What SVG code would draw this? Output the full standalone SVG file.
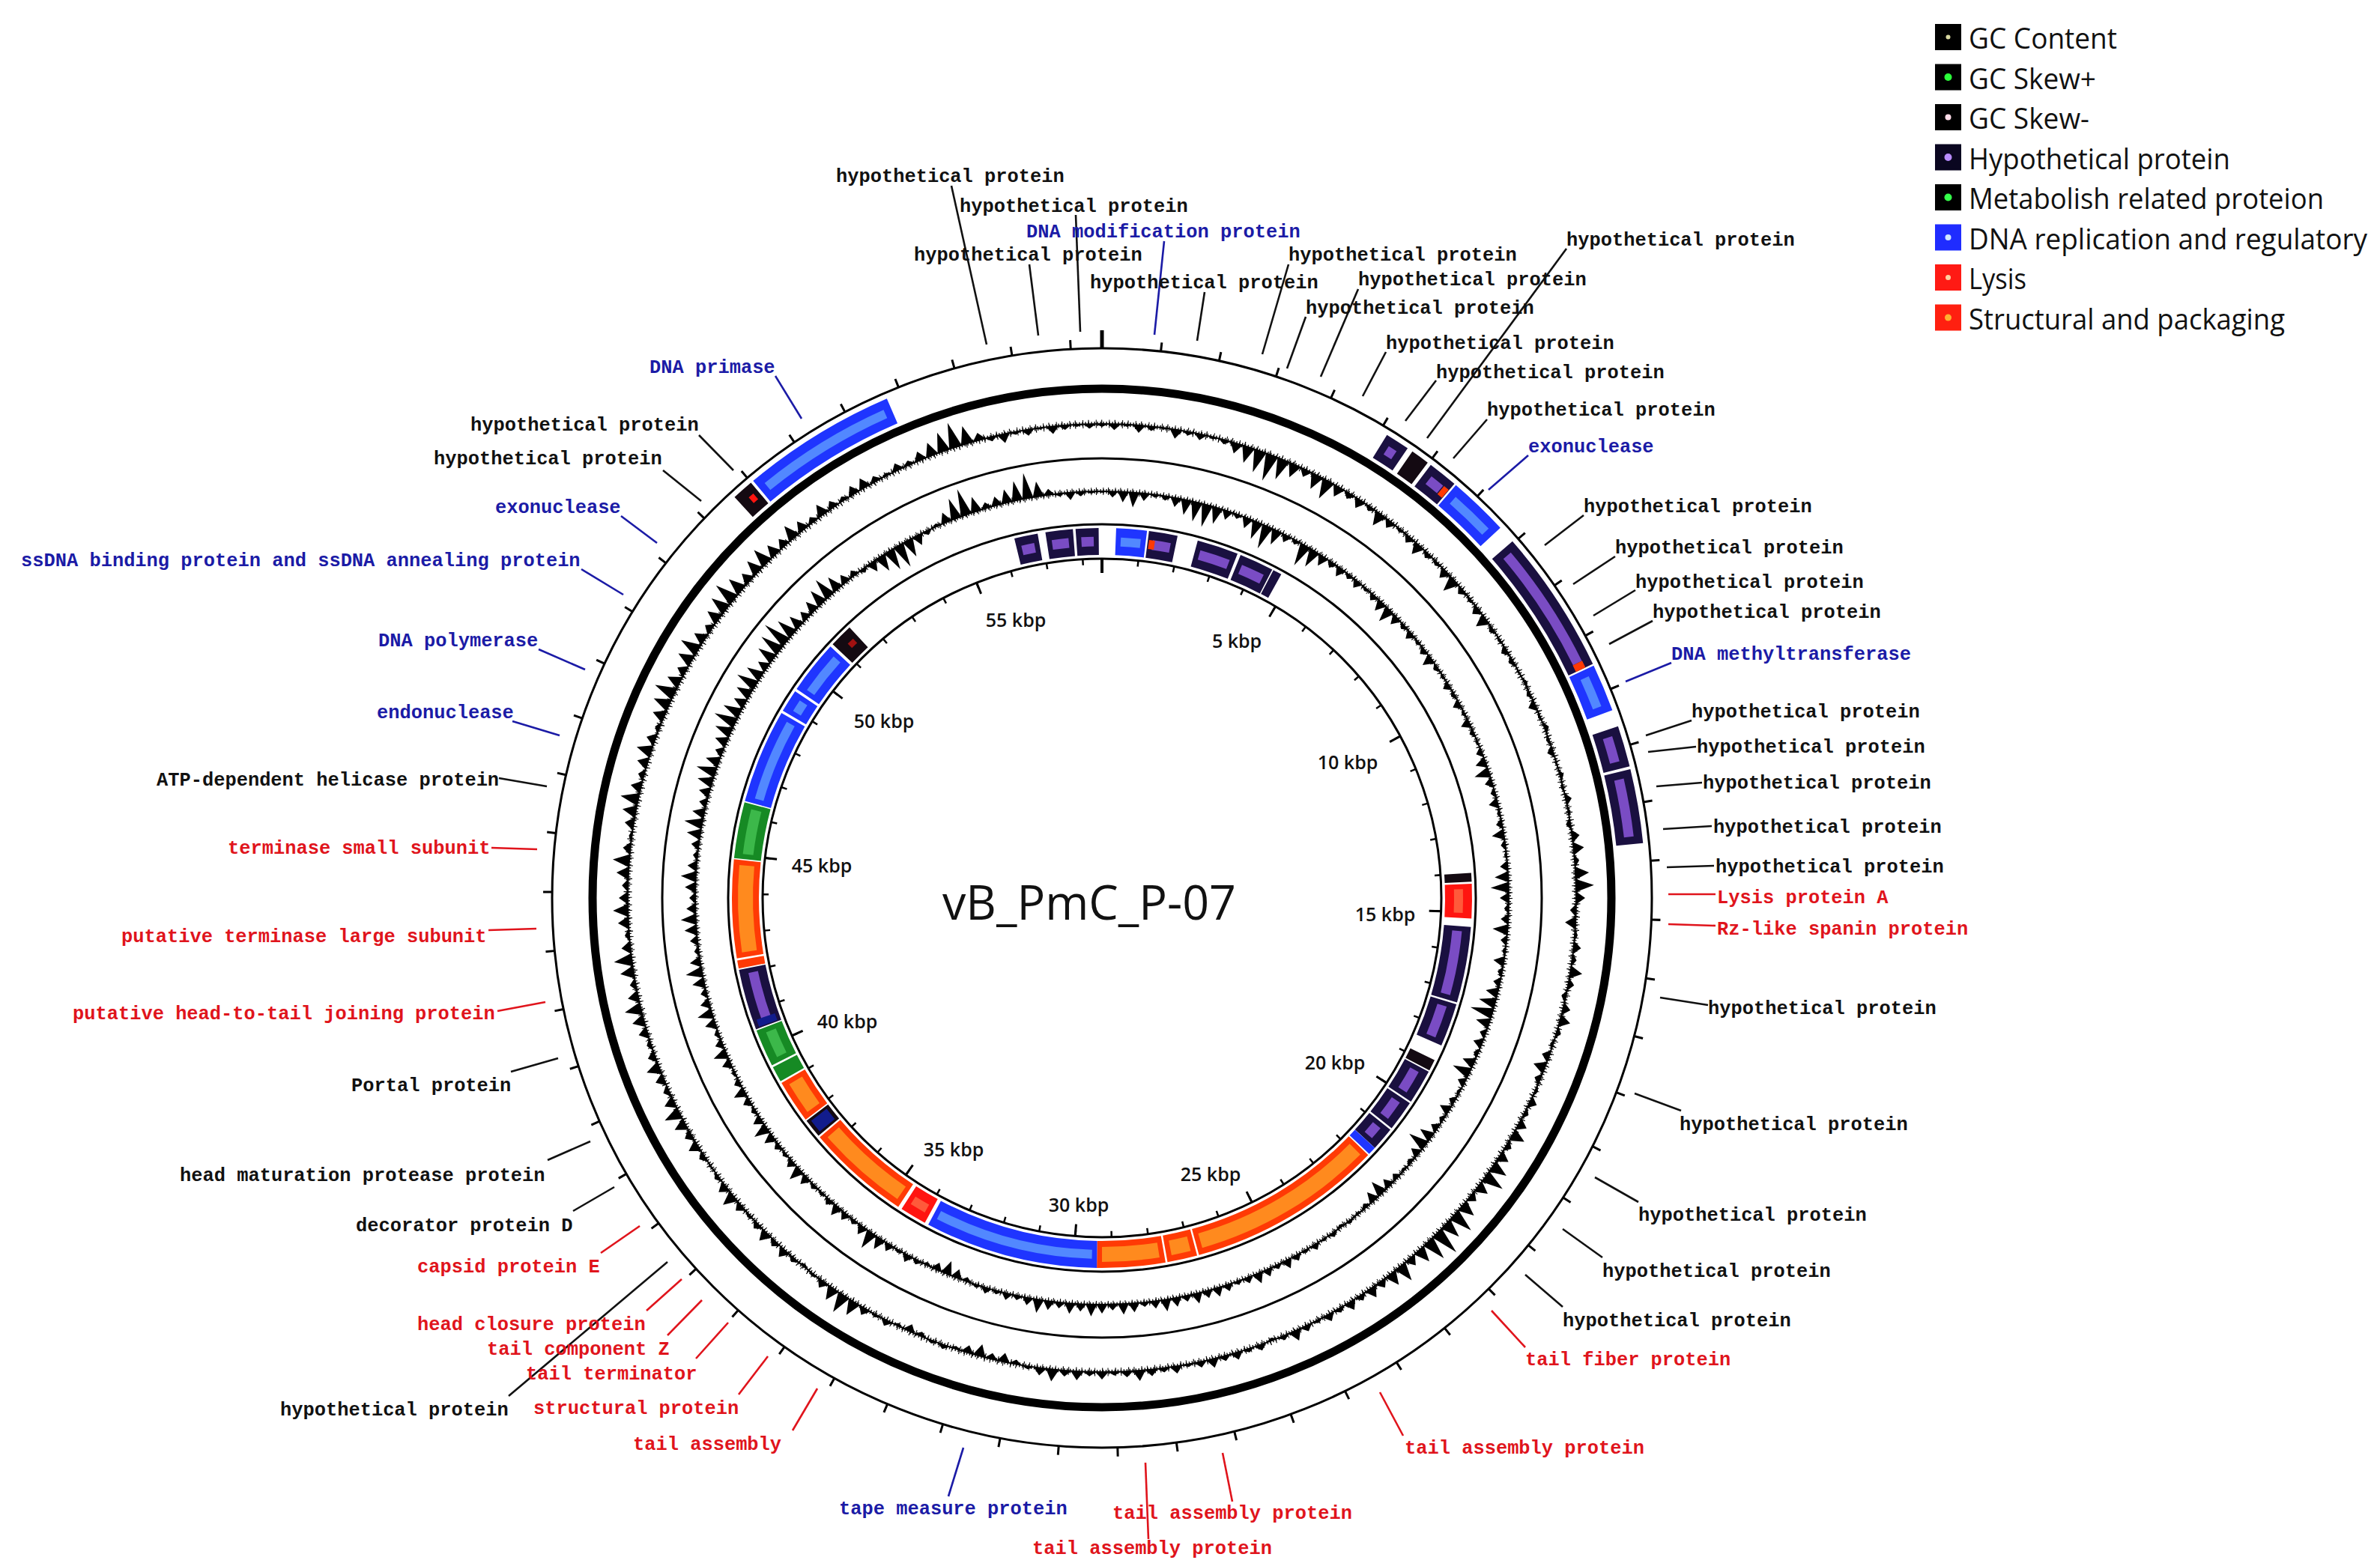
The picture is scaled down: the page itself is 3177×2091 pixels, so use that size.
<svg xmlns="http://www.w3.org/2000/svg" width="3177" height="2091" viewBox="0 0 3177 2091">
<style>
.t{font-family:"Liberation Mono",monospace;font-size:25.4px;font-weight:bold}
.k{fill:#111}.b{fill:#1b1ba6}.r{fill:#e0141c}
.lk{stroke:#111}.lb{stroke:#1b1ba6}.lr{stroke:#e0141c}
.kb{font-family:"Open Sans","Noto Sans",sans-serif;font-size:25px;font-weight:600;fill:#111;text-anchor:middle}
.lg{font-family:"Open Sans","Noto Sans",sans-serif;font-size:38px;fill:#111}
.hy{stroke:#1a1040}.hyg{stroke:#7a4cc4;stroke-width:13}
.bl{stroke:#1f35ff}.blg{stroke:#5288ff;stroke-width:12}
.or{stroke:#ff3a05}.org{stroke:#ff8a1e;stroke-width:20}
.rd{stroke:#ff1510}.rdg{stroke:#ff5a3a;stroke-width:12}
.gr{stroke:#168a24}.grg{stroke:#3cb84a;stroke-width:14}
.bk{stroke:#140a12}.db{stroke:#121c8c}
</style>
<rect width="3177" height="2091" fill="#fff"/>
<g id="legend">
<g id="lg1"><rect x="2583" y="32" width="35" height="35" fill="#000"/><circle cx="2600.5" cy="49.5" r="3" fill="#d8d8a0"/><text class="lg" x="2628" y="65" textLength="198" lengthAdjust="spacingAndGlyphs">GC Content</text></g>
<g id="lg2"><rect x="2583" y="85.5" width="35" height="35" fill="#000"/><circle cx="2600.5" cy="103" r="5" fill="#2bff3a"/><text class="lg" x="2628" y="118.5" textLength="170" lengthAdjust="spacingAndGlyphs">GC Skew+</text></g>
<g id="lg3"><rect x="2583" y="139" width="35" height="35" fill="#000"/><circle cx="2600.5" cy="156.5" r="4" fill="#ffdce8"/><text class="lg" x="2628" y="172" textLength="161" lengthAdjust="spacingAndGlyphs">GC Skew-</text></g>
<g id="lg4"><rect x="2583" y="192.5" width="35" height="35" fill="#0a0620"/><circle cx="2600.5" cy="210" r="5" fill="#b98cff"/><text class="lg" x="2628" y="225.5" textLength="349" lengthAdjust="spacingAndGlyphs">Hypothetical protein</text></g>
<g id="lg5"><rect x="2583" y="246" width="35" height="35" fill="#000"/><circle cx="2600.5" cy="263.5" r="5" fill="#35ff4a"/><text class="lg" x="2628" y="279" textLength="474" lengthAdjust="spacingAndGlyphs">Metabolish related proteion</text></g>
<g id="lg6"><rect x="2583" y="299.5" width="35" height="35" fill="#1f2cff"/><circle cx="2600.5" cy="317" r="4" fill="#cfe6ff"/><text class="lg" x="2628" y="332.5" textLength="532" lengthAdjust="spacingAndGlyphs">DNA replication and regulatory</text></g>
<g id="lg7"><rect x="2583" y="353" width="35" height="35" fill="#ff1a14"/><circle cx="2600.5" cy="370.5" r="3.5" fill="#ffd0a0"/><text class="lg" x="2628" y="386" textLength="77" lengthAdjust="spacingAndGlyphs">Lysis</text></g>
<g id="lg8"><rect x="2583" y="406.5" width="35" height="35" fill="#ff2010"/><circle cx="2600.5" cy="424" r="4.5" fill="#ffb030"/><text class="lg" x="2628" y="439.5" textLength="422" lengthAdjust="spacingAndGlyphs">Structural and packaging</text></g>
</g>
<g id="map" transform="translate(1471 1199)">
<g id="rings" fill="none" stroke="#000">
<circle r="734" stroke-width="3"/>
<circle r="680" stroke-width="11"/>
<circle r="587" stroke-width="3"/>
<circle r="499" stroke-width="3"/>
<circle r="453" stroke-width="3"/>
<circle r="633" stroke-width="2"/>
<circle r="543" stroke-width="2"/>
<circle r="633" stroke-width="6" stroke-dasharray="1.4 2.6"/>
<circle r="633" stroke-width="11" stroke-dasharray="1 6.3 1.2 9.1"/>
<circle r="543" stroke-width="6" stroke-dasharray="1.3 2.7"/>
<circle r="543" stroke-width="10" stroke-dasharray="1 5.7 1.1 8.3"/>
</g>
<g id="ticks" fill="none" stroke="#000">
<circle r="740" stroke-width="12" stroke-dasharray="3 76.43" stroke-dashoffset="1.5" transform="rotate(-90)"/>
<line x1="0" y1="-734" x2="0" y2="-758" stroke-width="5"/>
<circle r="449" stroke-width="8" stroke-dasharray="2.5 45.69" stroke-dashoffset="1.25" transform="rotate(-90)"/>
<circle r="445" stroke-width="16" stroke-dasharray="3 235.83" stroke-dashoffset="1.5" transform="rotate(-90)"/>
<line x1="0" y1="-453" x2="0" y2="-434" stroke-width="4"/>
</g>
<g id="gc-content" fill="#000">
<path transform="rotate(0)" d="M-8.6-633 0-629 8.6-633"/>
<path transform="rotate(1.5)" d="M-8.6-633 0-625 8.6-633"/>
<path transform="rotate(3)" d="M-8.6-633 0-630 8.6-633"/>
<path transform="rotate(4.5)" d="M-8.6-633 0-623 8.6-633"/>
<path transform="rotate(6)" d="M-8.6-633 0-627 8.6-633"/>
<path transform="rotate(7.5)" d="M-8.6-633 0-631 8.6-633"/>
<path transform="rotate(9)" d="M-8.6-633 0-621 8.6-633"/>
<path transform="rotate(10.5)" d="M-8.6-633 0-628 8.6-633"/>
<path transform="rotate(12)" d="M-8.6-633 0-625 8.6-633"/>
<path transform="rotate(13.5)" d="M-8.6-633 0-630 8.6-633"/>
<path transform="rotate(15)" d="M-8.6-633 0-627 8.6-633"/>
<path transform="rotate(16.5)" d="M-8.6-633 0-619 8.6-633"/>
<path transform="rotate(18)" d="M-8.6-633 0-611 8.6-633"/>
<path transform="rotate(19.5)" d="M-8.6-633 0-603 8.6-633"/>
<path transform="rotate(21)" d="M-8.6-633 0-597 8.6-633"/>
<path transform="rotate(22.5)" d="M-8.6-633 0-605 8.6-633"/>
<path transform="rotate(24)" d="M-8.6-633 0-615 8.6-633"/>
<path transform="rotate(25.5)" d="M-8.6-633 0-623 8.6-633"/>
<path transform="rotate(27)" d="M-8.6-633 0-613 8.6-633"/>
<path transform="rotate(28.5)" d="M-8.6-633 0-607 8.6-633"/>
<path transform="rotate(30)" d="M-8.6-633 0-619 8.6-633"/>
<path transform="rotate(31.5)" d="M-8.6-633 0-625 8.6-633"/>
<path transform="rotate(33)" d="M-8.6-633 0-621 8.6-633"/>
<path transform="rotate(34.5)" d="M-8.6-633 0-627 8.6-633"/>
<path transform="rotate(36)" d="M-8.6-633 0-615 8.6-633"/>
<path transform="rotate(37.5)" d="M-8.6-633 0-623 8.6-633"/>
<path transform="rotate(39)" d="M-8.6-633 0-629 8.6-633"/>
<path transform="rotate(40.5)" d="M-8.6-633 0-624 8.6-633"/>
<path transform="rotate(42)" d="M-8.6-633 0-618 8.6-633"/>
<path transform="rotate(43.5)" d="M-8.6-633 0-626 8.6-633"/>
<path transform="rotate(45)" d="M-8.6-633 0-628 8.6-633"/>
<path transform="rotate(46.5)" d="M-8.6-633 0-621 8.6-633"/>
<path transform="rotate(48)" d="M-8.6-633 0-613 8.6-633"/>
<path transform="rotate(49.5)" d="M-8.6-633 0-625 8.6-633"/>
<path transform="rotate(51)" d="M-8.6-633 0-629 8.6-633"/>
<path transform="rotate(52.5)" d="M-8.6-633 0-623 8.6-633"/>
<path transform="rotate(54)" d="M-8.6-633 0-617 8.6-633"/>
<path transform="rotate(55.5)" d="M-8.6-633 0-627 8.6-633"/>
<path transform="rotate(57)" d="M-8.6-633 0-630 8.6-633"/>
<path transform="rotate(58.5)" d="M-8.6-633 0-625 8.6-633"/>
<path transform="rotate(60)" d="M-8.6-633 0-627 8.6-633"/>
<path transform="rotate(61.5)" d="M-8.6-633 0-631 8.6-633"/>
<path transform="rotate(63)" d="M-8.6-633 0-637 8.6-633"/>
<path transform="rotate(64.5)" d="M-8.6-633 0-628 8.6-633"/>
<path transform="rotate(66)" d="M-8.6-633 0-623 8.6-633"/>
<path transform="rotate(67.5)" d="M-8.6-633 0-630 8.6-633"/>
<path transform="rotate(69)" d="M-8.6-633 0-639 8.6-633"/>
<path transform="rotate(70.5)" d="M-8.6-633 0-629 8.6-633"/>
<path transform="rotate(72)" d="M-8.6-633 0-625 8.6-633"/>
<path transform="rotate(73.5)" d="M-8.6-633 0-631 8.6-633"/>
<path transform="rotate(75)" d="M-8.6-633 0-638 8.6-633"/>
<path transform="rotate(76.5)" d="M-8.6-633 0-630 8.6-633"/>
<path transform="rotate(78)" d="M-8.6-633 0-641 8.6-633"/>
<path transform="rotate(79.5)" d="M-8.6-633 0-636 8.6-633"/>
<path transform="rotate(81)" d="M-8.6-633 0-627 8.6-633"/>
<path transform="rotate(82.5)" d="M-8.6-633 0-643 8.6-633"/>
<path transform="rotate(84)" d="M-8.6-633 0-647 8.6-633"/>
<path transform="rotate(85.5)" d="M-8.6-633 0-639 8.6-633"/>
<path transform="rotate(87)" d="M-8.6-633 0-651 8.6-633"/>
<path transform="rotate(88.5)" d="M-8.6-633 0-657 8.6-633"/>
<path transform="rotate(90)" d="M-8.6-633 0-645 8.6-633"/>
<path transform="rotate(91.5)" d="M-8.6-633 0-625 8.6-633"/>
<path transform="rotate(93)" d="M-8.6-633 0-619 8.6-633"/>
<path transform="rotate(94.5)" d="M-8.6-633 0-637 8.6-633"/>
<path transform="rotate(96)" d="M-8.6-633 0-643 8.6-633"/>
<path transform="rotate(97.5)" d="M-8.6-633 0-639 8.6-633"/>
<path transform="rotate(99)" d="M-8.6-633 0-649 8.6-633"/>
<path transform="rotate(100.5)" d="M-8.6-633 0-641 8.6-633"/>
<path transform="rotate(102)" d="M-8.6-633 0-627 8.6-633"/>
<path transform="rotate(103.5)" d="M-8.6-633 0-643 8.6-633"/>
<path transform="rotate(105)" d="M-8.6-633 0-647 8.6-633"/>
<path transform="rotate(106.5)" d="M-8.6-633 0-639 8.6-633"/>
<path transform="rotate(108)" d="M-8.6-633 0-629 8.6-633"/>
<path transform="rotate(109.5)" d="M-8.6-633 0-623 8.6-633"/>
<path transform="rotate(111)" d="M-8.6-633 0-617 8.6-633"/>
<path transform="rotate(112.5)" d="M-8.6-633 0-625 8.6-633"/>
<path transform="rotate(114)" d="M-8.6-633 0-637 8.6-633"/>
<path transform="rotate(115.5)" d="M-8.6-633 0-643 8.6-633"/>
<path transform="rotate(117)" d="M-8.6-633 0-639 8.6-633"/>
<path transform="rotate(118.5)" d="M-8.6-633 0-645 8.6-633"/>
<path transform="rotate(120)" d="M-8.6-633 0-651 8.6-633"/>
<path transform="rotate(121.5)" d="M-8.6-633 0-641 8.6-633"/>
<path transform="rotate(123)" d="M-8.6-633 0-647 8.6-633"/>
<path transform="rotate(124.5)" d="M-8.6-633 0-655 8.6-633"/>
<path transform="rotate(126)" d="M-8.6-633 0-661 8.6-633"/>
<path transform="rotate(127.5)" d="M-8.6-633 0-649 8.6-633"/>
<path transform="rotate(129)" d="M-8.6-633 0-643 8.6-633"/>
<path transform="rotate(130.5)" d="M-8.6-633 0-653 8.6-633"/>
<path transform="rotate(132)" d="M-8.6-633 0-663 8.6-633"/>
<path transform="rotate(133.5)" d="M-8.6-633 0-657 8.6-633"/>
<path transform="rotate(135)" d="M-8.6-633 0-669 8.6-633"/>
<path transform="rotate(136.5)" d="M-8.6-633 0-663 8.6-633"/>
<path transform="rotate(138)" d="M-8.6-633 0-653 8.6-633"/>
<path transform="rotate(139.5)" d="M-8.6-633 0-645 8.6-633"/>
<path transform="rotate(141)" d="M-8.6-633 0-657 8.6-633"/>
<path transform="rotate(142.5)" d="M-8.6-633 0-651 8.6-633"/>
<path transform="rotate(144)" d="M-8.6-633 0-643 8.6-633"/>
<path transform="rotate(145.5)" d="M-8.6-633 0-647 8.6-633"/>
<path transform="rotate(147)" d="M-8.6-633 0-641 8.6-633"/>
<path transform="rotate(148.5)" d="M-8.6-633 0-645 8.6-633"/>
<path transform="rotate(150)" d="M-8.6-633 0-639 8.6-633"/>
<path transform="rotate(151.5)" d="M-8.6-633 0-643 8.6-633"/>
<path transform="rotate(153)" d="M-8.6-633 0-637 8.6-633"/>
<path transform="rotate(154.5)" d="M-8.6-633 0-641 8.6-633"/>
<path transform="rotate(156)" d="M-8.6-633 0-647 8.6-633"/>
<path transform="rotate(157.5)" d="M-8.6-633 0-639 8.6-633"/>
<path transform="rotate(159)" d="M-8.6-633 0-629 8.6-633"/>
<path transform="rotate(160.5)" d="M-8.6-633 0-641 8.6-633"/>
<path transform="rotate(162)" d="M-8.6-633 0-638 8.6-633"/>
<path transform="rotate(163.5)" d="M-8.6-633 0-643 8.6-633"/>
<path transform="rotate(165)" d="M-8.6-633 0-640 8.6-633"/>
<path transform="rotate(166.5)" d="M-8.6-633 0-645 8.6-633"/>
<path transform="rotate(168)" d="M-8.6-633 0-641 8.6-633"/>
<path transform="rotate(169.5)" d="M-8.6-633 0-637 8.6-633"/>
<path transform="rotate(171)" d="M-8.6-633 0-643 8.6-633"/>
<path transform="rotate(172.5)" d="M-8.6-633 0-639 8.6-633"/>
<path transform="rotate(174)" d="M-8.6-633 0-642 8.6-633"/>
<path transform="rotate(175.5)" d="M-8.6-633 0-647 8.6-633"/>
<path transform="rotate(177)" d="M-8.6-633 0-641 8.6-633"/>
<path transform="rotate(178.5)" d="M-8.6-633 0-638 8.6-633"/>
<path transform="rotate(180)" d="M-8.6-633 0-643 8.6-633"/>
<path transform="rotate(181.5)" d="M-8.6-633 0-639 8.6-633"/>
<path transform="rotate(183)" d="M-8.6-633 0-645 8.6-633"/>
<path transform="rotate(184.5)" d="M-8.6-633 0-641 8.6-633"/>
<path transform="rotate(186)" d="M-8.6-633 0-649 8.6-633"/>
<path transform="rotate(187.5)" d="M-8.6-633 0-643 8.6-633"/>
<path transform="rotate(189)" d="M-8.6-633 0-637 8.6-633"/>
<path transform="rotate(190.5)" d="M-8.6-633 0-627 8.6-633"/>
<path transform="rotate(192)" d="M-8.6-633 0-621 8.6-633"/>
<path transform="rotate(193.5)" d="M-8.6-633 0-625 8.6-633"/>
<path transform="rotate(195)" d="M-8.6-633 0-617 8.6-633"/>
<path transform="rotate(196.5)" d="M-8.6-633 0-623 8.6-633"/>
<path transform="rotate(198)" d="M-8.6-633 0-629 8.6-633"/>
<path transform="rotate(199.5)" d="M-8.6-633 0-639 8.6-633"/>
<path transform="rotate(201)" d="M-8.6-633 0-637 8.6-633"/>
<path transform="rotate(202.5)" d="M-8.6-633 0-627 8.6-633"/>
<path transform="rotate(204)" d="M-8.6-633 0-623 8.6-633"/>
<path transform="rotate(205.5)" d="M-8.6-633 0-629 8.6-633"/>
<path transform="rotate(207)" d="M-8.6-633 0-641 8.6-633"/>
<path transform="rotate(208.5)" d="M-8.6-633 0-637 8.6-633"/>
<path transform="rotate(210)" d="M-8.6-633 0-643 8.6-633"/>
<path transform="rotate(211.5)" d="M-8.6-633 0-653 8.6-633"/>
<path transform="rotate(213)" d="M-8.6-633 0-659 8.6-633"/>
<path transform="rotate(214.5)" d="M-8.6-633 0-651 8.6-633"/>
<path transform="rotate(216)" d="M-8.6-633 0-643 8.6-633"/>
<path transform="rotate(217.5)" d="M-8.6-633 0-637 8.6-633"/>
<path transform="rotate(219)" d="M-8.6-633 0-629 8.6-633"/>
<path transform="rotate(220.5)" d="M-8.6-633 0-639 8.6-633"/>
<path transform="rotate(222)" d="M-8.6-633 0-645 8.6-633"/>
<path transform="rotate(223.5)" d="M-8.6-633 0-641 8.6-633"/>
<path transform="rotate(225)" d="M-8.6-633 0-647 8.6-633"/>
<path transform="rotate(226.5)" d="M-8.6-633 0-641 8.6-633"/>
<path transform="rotate(228)" d="M-8.6-633 0-637 8.6-633"/>
<path transform="rotate(229.5)" d="M-8.6-633 0-643 8.6-633"/>
<path transform="rotate(231)" d="M-8.6-633 0-651 8.6-633"/>
<path transform="rotate(232.5)" d="M-8.6-633 0-645 8.6-633"/>
<path transform="rotate(234)" d="M-8.6-633 0-639 8.6-633"/>
<path transform="rotate(235.5)" d="M-8.6-633 0-635 8.6-633"/>
<path transform="rotate(237)" d="M-8.6-633 0-641 8.6-633"/>
<path transform="rotate(238.5)" d="M-8.6-633 0-647 8.6-633"/>
<path transform="rotate(240)" d="M-8.6-633 0-643 8.6-633"/>
<path transform="rotate(241.5)" d="M-8.6-633 0-649 8.6-633"/>
<path transform="rotate(243)" d="M-8.6-633 0-655 8.6-633"/>
<path transform="rotate(244.5)" d="M-8.6-633 0-647 8.6-633"/>
<path transform="rotate(246)" d="M-8.6-633 0-641 8.6-633"/>
<path transform="rotate(247.5)" d="M-8.6-633 0-645 8.6-633"/>
<path transform="rotate(249)" d="M-8.6-633 0-651 8.6-633"/>
<path transform="rotate(250.5)" d="M-8.6-633 0-643 8.6-633"/>
<path transform="rotate(252)" d="M-8.6-633 0-639 8.6-633"/>
<path transform="rotate(253.5)" d="M-8.6-633 0-645 8.6-633"/>
<path transform="rotate(255)" d="M-8.6-633 0-649 8.6-633"/>
<path transform="rotate(256.5)" d="M-8.6-633 0-655 8.6-633"/>
<path transform="rotate(258)" d="M-8.6-633 0-647 8.6-633"/>
<path transform="rotate(259.5)" d="M-8.6-633 0-641 8.6-633"/>
<path transform="rotate(261)" d="M-8.6-633 0-651 8.6-633"/>
<path transform="rotate(262.5)" d="M-8.6-633 0-657 8.6-633"/>
<path transform="rotate(264)" d="M-8.6-633 0-645 8.6-633"/>
<path transform="rotate(265.5)" d="M-8.6-633 0-639 8.6-633"/>
<path transform="rotate(267)" d="M-8.6-633 0-647 8.6-633"/>
<path transform="rotate(268.5)" d="M-8.6-633 0-653 8.6-633"/>
<path transform="rotate(270)" d="M-8.6-633 0-645 8.6-633"/>
<path transform="rotate(271.5)" d="M-8.6-633 0-641 8.6-633"/>
<path transform="rotate(273)" d="M-8.6-633 0-649 8.6-633"/>
<path transform="rotate(274.5)" d="M-8.6-633 0-655 8.6-633"/>
<path transform="rotate(276)" d="M-8.6-633 0-643 8.6-633"/>
<path transform="rotate(277.5)" d="M-8.6-633 0-637 8.6-633"/>
<path transform="rotate(279)" d="M-8.6-633 0-645 8.6-633"/>
<path transform="rotate(280.5)" d="M-8.6-633 0-651 8.6-633"/>
<path transform="rotate(282)" d="M-8.6-633 0-657 8.6-633"/>
<path transform="rotate(283.5)" d="M-8.6-633 0-647 8.6-633"/>
<path transform="rotate(285)" d="M-8.6-633 0-641 8.6-633"/>
<path transform="rotate(286.5)" d="M-8.6-633 0-647 8.6-633"/>
<path transform="rotate(288)" d="M-8.6-633 0-653 8.6-633"/>
<path transform="rotate(289.5)" d="M-8.6-633 0-645 8.6-633"/>
<path transform="rotate(291)" d="M-8.6-633 0-639 8.6-633"/>
<path transform="rotate(292.5)" d="M-8.6-633 0-649 8.6-633"/>
<path transform="rotate(294)" d="M-8.6-633 0-655 8.6-633"/>
<path transform="rotate(295.5)" d="M-8.6-633 0-661 8.6-633"/>
<path transform="rotate(297)" d="M-8.6-633 0-651 8.6-633"/>
<path transform="rotate(298.5)" d="M-8.6-633 0-645 8.6-633"/>
<path transform="rotate(300)" d="M-8.6-633 0-653 8.6-633"/>
<path transform="rotate(301.5)" d="M-8.6-633 0-659 8.6-633"/>
<path transform="rotate(303)" d="M-8.6-633 0-649 8.6-633"/>
<path transform="rotate(304.5)" d="M-8.6-633 0-643 8.6-633"/>
<path transform="rotate(306)" d="M-8.6-633 0-651 8.6-633"/>
<path transform="rotate(307.5)" d="M-8.6-633 0-657 8.6-633"/>
<path transform="rotate(309)" d="M-8.6-633 0-663 8.6-633"/>
<path transform="rotate(310.5)" d="M-8.6-633 0-655 8.6-633"/>
<path transform="rotate(312)" d="M-8.6-633 0-647 8.6-633"/>
<path transform="rotate(313.5)" d="M-8.6-633 0-653 8.6-633"/>
<path transform="rotate(315)" d="M-8.6-633 0-657 8.6-633"/>
<path transform="rotate(316.5)" d="M-8.6-633 0-649 8.6-633"/>
<path transform="rotate(318)" d="M-8.6-633 0-645 8.6-633"/>
<path transform="rotate(319.5)" d="M-8.6-633 0-653 8.6-633"/>
<path transform="rotate(321)" d="M-8.6-633 0-647 8.6-633"/>
<path transform="rotate(322.5)" d="M-8.6-633 0-641 8.6-633"/>
<path transform="rotate(324)" d="M-8.6-633 0-649 8.6-633"/>
<path transform="rotate(325.5)" d="M-8.6-633 0-643 8.6-633"/>
<path transform="rotate(327)" d="M-8.6-633 0-639 8.6-633"/>
<path transform="rotate(328.5)" d="M-8.6-633 0-645 8.6-633"/>
<path transform="rotate(330)" d="M-8.6-633 0-647 8.6-633"/>
<path transform="rotate(331.5)" d="M-8.6-633 0-641 8.6-633"/>
<path transform="rotate(333)" d="M-8.6-633 0-637 8.6-633"/>
<path transform="rotate(334.5)" d="M-8.6-633 0-643 8.6-633"/>
<path transform="rotate(336)" d="M-8.6-633 0-639 8.6-633"/>
<path transform="rotate(337.5)" d="M-8.6-633 0-645 8.6-633"/>
<path transform="rotate(339)" d="M-8.6-633 0-651 8.6-633"/>
<path transform="rotate(340.5)" d="M-8.6-633 0-659 8.6-633"/>
<path transform="rotate(342)" d="M-8.6-633 0-667 8.6-633"/>
<path transform="rotate(343.5)" d="M-8.6-633 0-657 8.6-633"/>
<path transform="rotate(345)" d="M-8.6-633 0-643 8.6-633"/>
<path transform="rotate(346.5)" d="M-8.6-633 0-627 8.6-633"/>
<path transform="rotate(348)" d="M-8.6-633 0-621 8.6-633"/>
<path transform="rotate(349.5)" d="M-8.6-633 0-629 8.6-633"/>
<path transform="rotate(351)" d="M-8.6-633 0-625 8.6-633"/>
<path transform="rotate(352.5)" d="M-8.6-633 0-631 8.6-633"/>
<path transform="rotate(354)" d="M-8.6-633 0-623 8.6-633"/>
<path transform="rotate(355.5)" d="M-8.6-633 0-627 8.6-633"/>
<path transform="rotate(357)" d="M-8.6-633 0-630 8.6-633"/>
<path transform="rotate(358.5)" d="M-8.6-633 0-627 8.6-633"/>
</g>
<g id="gc-skew" fill="#000">
<path transform="rotate(0)" d="M-7.4-543 0-541 7.4-543"/>
<path transform="rotate(1.5)" d="M-7.4-543 0-535 7.4-543"/>
<path transform="rotate(3)" d="M-7.4-543 0-529 7.4-543"/>
<path transform="rotate(4.5)" d="M-7.4-543 0-523 7.4-543"/>
<path transform="rotate(6)" d="M-7.4-543 0-533 7.4-543"/>
<path transform="rotate(7.5)" d="M-7.4-543 0-539 7.4-543"/>
<path transform="rotate(9)" d="M-7.4-543 0-537 7.4-543"/>
<path transform="rotate(10.5)" d="M-7.4-543 0-531 7.4-543"/>
<path transform="rotate(12)" d="M-7.4-543 0-523 7.4-543"/>
<path transform="rotate(13.5)" d="M-7.4-543 0-517 7.4-543"/>
<path transform="rotate(15)" d="M-7.4-543 0-513 7.4-543"/>
<path transform="rotate(16.5)" d="M-7.4-543 0-521 7.4-543"/>
<path transform="rotate(18)" d="M-7.4-543 0-531 7.4-543"/>
<path transform="rotate(19.5)" d="M-7.4-543 0-537 7.4-543"/>
<path transform="rotate(21)" d="M-7.4-543 0-529 7.4-543"/>
<path transform="rotate(22.5)" d="M-7.4-543 0-519 7.4-543"/>
<path transform="rotate(24)" d="M-7.4-543 0-511 7.4-543"/>
<path transform="rotate(25.5)" d="M-7.4-543 0-523 7.4-543"/>
<path transform="rotate(27)" d="M-7.4-543 0-533 7.4-543"/>
<path transform="rotate(28.5)" d="M-7.4-543 0-537 7.4-543"/>
<path transform="rotate(30)" d="M-7.4-543 0-513 7.4-543"/>
<path transform="rotate(31.5)" d="M-7.4-543 0-519 7.4-543"/>
<path transform="rotate(33)" d="M-7.4-543 0-529 7.4-543"/>
<path transform="rotate(34.5)" d="M-7.4-543 0-535 7.4-543"/>
<path transform="rotate(36)" d="M-7.4-543 0-531 7.4-543"/>
<path transform="rotate(37.5)" d="M-7.4-543 0-537 7.4-543"/>
<path transform="rotate(39)" d="M-7.4-543 0-533 7.4-543"/>
<path transform="rotate(40.5)" d="M-7.4-543 0-539 7.4-543"/>
<path transform="rotate(42)" d="M-7.4-543 0-535 7.4-543"/>
<path transform="rotate(43.5)" d="M-7.4-543 0-529 7.4-543"/>
<path transform="rotate(45)" d="M-7.4-543 0-523 7.4-543"/>
<path transform="rotate(46.5)" d="M-7.4-543 0-531 7.4-543"/>
<path transform="rotate(48)" d="M-7.4-543 0-537 7.4-543"/>
<path transform="rotate(49.5)" d="M-7.4-543 0-533 7.4-543"/>
<path transform="rotate(51)" d="M-7.4-543 0-539 7.4-543"/>
<path transform="rotate(52.5)" d="M-7.4-543 0-535 7.4-543"/>
<path transform="rotate(54)" d="M-7.4-543 0-529 7.4-543"/>
<path transform="rotate(55.5)" d="M-7.4-543 0-537 7.4-543"/>
<path transform="rotate(57)" d="M-7.4-543 0-540 7.4-543"/>
<path transform="rotate(58.5)" d="M-7.4-543 0-534 7.4-543"/>
<path transform="rotate(60)" d="M-7.4-543 0-538 7.4-543"/>
<path transform="rotate(61.5)" d="M-7.4-543 0-533 7.4-543"/>
<path transform="rotate(63)" d="M-7.4-543 0-539 7.4-543"/>
<path transform="rotate(64.5)" d="M-7.4-543 0-531 7.4-543"/>
<path transform="rotate(66)" d="M-7.4-543 0-537 7.4-543"/>
<path transform="rotate(67.5)" d="M-7.4-543 0-540 7.4-543"/>
<path transform="rotate(69)" d="M-7.4-543 0-535 7.4-543"/>
<path transform="rotate(70.5)" d="M-7.4-543 0-529 7.4-543"/>
<path transform="rotate(72)" d="M-7.4-543 0-523 7.4-543"/>
<path transform="rotate(73.5)" d="M-7.4-543 0-533 7.4-543"/>
<path transform="rotate(75)" d="M-7.4-543 0-537 7.4-543"/>
<path transform="rotate(76.5)" d="M-7.4-543 0-531 7.4-543"/>
<path transform="rotate(78)" d="M-7.4-543 0-539 7.4-543"/>
<path transform="rotate(79.5)" d="M-7.4-543 0-535 7.4-543"/>
<path transform="rotate(81)" d="M-7.4-543 0-527 7.4-543"/>
<path transform="rotate(82.5)" d="M-7.4-543 0-537 7.4-543"/>
<path transform="rotate(84)" d="M-7.4-543 0-540 7.4-543"/>
<path transform="rotate(85.5)" d="M-7.4-543 0-533 7.4-543"/>
<path transform="rotate(87)" d="M-7.4-543 0-525 7.4-543"/>
<path transform="rotate(88.5)" d="M-7.4-543 0-519 7.4-543"/>
<path transform="rotate(90)" d="M-7.4-543 0-531 7.4-543"/>
<path transform="rotate(91.5)" d="M-7.4-543 0-537 7.4-543"/>
<path transform="rotate(93)" d="M-7.4-543 0-533 7.4-543"/>
<path transform="rotate(94.5)" d="M-7.4-543 0-523 7.4-543"/>
<path transform="rotate(96)" d="M-7.4-543 0-535 7.4-543"/>
<path transform="rotate(97.5)" d="M-7.4-543 0-539 7.4-543"/>
<path transform="rotate(99)" d="M-7.4-543 0-529 7.4-543"/>
<path transform="rotate(100.5)" d="M-7.4-543 0-537 7.4-543"/>
<path transform="rotate(102)" d="M-7.4-543 0-534 7.4-543"/>
<path transform="rotate(103.5)" d="M-7.4-543 0-527 7.4-543"/>
<path transform="rotate(105)" d="M-7.4-543 0-521 7.4-543"/>
<path transform="rotate(106.5)" d="M-7.4-543 0-513 7.4-543"/>
<path transform="rotate(108)" d="M-7.4-543 0-525 7.4-543"/>
<path transform="rotate(109.5)" d="M-7.4-543 0-535 7.4-543"/>
<path transform="rotate(111)" d="M-7.4-543 0-531 7.4-543"/>
<path transform="rotate(112.5)" d="M-7.4-543 0-537 7.4-543"/>
<path transform="rotate(114)" d="M-7.4-543 0-527 7.4-543"/>
<path transform="rotate(115.5)" d="M-7.4-543 0-519 7.4-543"/>
<path transform="rotate(117)" d="M-7.4-543 0-533 7.4-543"/>
<path transform="rotate(118.5)" d="M-7.4-543 0-539 7.4-543"/>
<path transform="rotate(120)" d="M-7.4-543 0-535 7.4-543"/>
<path transform="rotate(121.5)" d="M-7.4-543 0-529 7.4-543"/>
<path transform="rotate(123)" d="M-7.4-543 0-537 7.4-543"/>
<path transform="rotate(124.5)" d="M-7.4-543 0-533 7.4-543"/>
<path transform="rotate(126)" d="M-7.4-543 0-525 7.4-543"/>
<path transform="rotate(127.5)" d="M-7.4-543 0-517 7.4-543"/>
<path transform="rotate(129)" d="M-7.4-543 0-531 7.4-543"/>
<path transform="rotate(130.5)" d="M-7.4-543 0-537 7.4-543"/>
<path transform="rotate(132)" d="M-7.4-543 0-539 7.4-543"/>
<path transform="rotate(133.5)" d="M-7.4-543 0-535 7.4-543"/>
<path transform="rotate(135)" d="M-7.4-543 0-531 7.4-543"/>
<path transform="rotate(136.5)" d="M-7.4-543 0-523 7.4-543"/>
<path transform="rotate(138)" d="M-7.4-543 0-529 7.4-543"/>
<path transform="rotate(139.5)" d="M-7.4-543 0-537 7.4-543"/>
<path transform="rotate(141)" d="M-7.4-543 0-540 7.4-543"/>
<path transform="rotate(142.5)" d="M-7.4-543 0-547 7.4-543"/>
<path transform="rotate(144)" d="M-7.4-543 0-539 7.4-543"/>
<path transform="rotate(145.5)" d="M-7.4-543 0-549 7.4-543"/>
<path transform="rotate(147)" d="M-7.4-543 0-546 7.4-543"/>
<path transform="rotate(148.5)" d="M-7.4-543 0-551 7.4-543"/>
<path transform="rotate(150)" d="M-7.4-543 0-547 7.4-543"/>
<path transform="rotate(151.5)" d="M-7.4-543 0-551 7.4-543"/>
<path transform="rotate(153)" d="M-7.4-543 0-555 7.4-543"/>
<path transform="rotate(154.5)" d="M-7.4-543 0-549 7.4-543"/>
<path transform="rotate(156)" d="M-7.4-543 0-553 7.4-543"/>
<path transform="rotate(157.5)" d="M-7.4-543 0-557 7.4-543"/>
<path transform="rotate(159)" d="M-7.4-543 0-551 7.4-543"/>
<path transform="rotate(160.5)" d="M-7.4-543 0-548 7.4-543"/>
<path transform="rotate(162)" d="M-7.4-543 0-552 7.4-543"/>
<path transform="rotate(163.5)" d="M-7.4-543 0-555 7.4-543"/>
<path transform="rotate(165)" d="M-7.4-543 0-553 7.4-543"/>
<path transform="rotate(166.5)" d="M-7.4-543 0-557 7.4-543"/>
<path transform="rotate(168)" d="M-7.4-543 0-551 7.4-543"/>
<path transform="rotate(169.5)" d="M-7.4-543 0-555 7.4-543"/>
<path transform="rotate(171)" d="M-7.4-543 0-559 7.4-543"/>
<path transform="rotate(172.5)" d="M-7.4-543 0-553 7.4-543"/>
<path transform="rotate(174)" d="M-7.4-543 0-549 7.4-543"/>
<path transform="rotate(175.5)" d="M-7.4-543 0-555 7.4-543"/>
<path transform="rotate(177)" d="M-7.4-543 0-557 7.4-543"/>
<path transform="rotate(178.5)" d="M-7.4-543 0-551 7.4-543"/>
<path transform="rotate(180)" d="M-7.4-543 0-555 7.4-543"/>
<path transform="rotate(181.5)" d="M-7.4-543 0-559 7.4-543"/>
<path transform="rotate(183)" d="M-7.4-543 0-553 7.4-543"/>
<path transform="rotate(184.5)" d="M-7.4-543 0-557 7.4-543"/>
<path transform="rotate(186)" d="M-7.4-543 0-551 7.4-543"/>
<path transform="rotate(187.5)" d="M-7.4-543 0-555 7.4-543"/>
<path transform="rotate(189)" d="M-7.4-543 0-561 7.4-543"/>
<path transform="rotate(190.5)" d="M-7.4-543 0-553 7.4-543"/>
<path transform="rotate(192)" d="M-7.4-543 0-549 7.4-543"/>
<path transform="rotate(193.5)" d="M-7.4-543 0-552 7.4-543"/>
<path transform="rotate(195)" d="M-7.4-543 0-548 7.4-543"/>
<path transform="rotate(196.5)" d="M-7.4-543 0-551 7.4-543"/>
<path transform="rotate(198)" d="M-7.4-543 0-547 7.4-543"/>
<path transform="rotate(199.5)" d="M-7.4-543 0-537 7.4-543"/>
<path transform="rotate(201)" d="M-7.4-543 0-531 7.4-543"/>
<path transform="rotate(202.5)" d="M-7.4-543 0-525 7.4-543"/>
<path transform="rotate(204)" d="M-7.4-543 0-533 7.4-543"/>
<path transform="rotate(205.5)" d="M-7.4-543 0-539 7.4-543"/>
<path transform="rotate(207)" d="M-7.4-543 0-549 7.4-543"/>
<path transform="rotate(208.5)" d="M-7.4-543 0-553 7.4-543"/>
<path transform="rotate(210)" d="M-7.4-543 0-547 7.4-543"/>
<path transform="rotate(211.5)" d="M-7.4-543 0-553 7.4-543"/>
<path transform="rotate(213)" d="M-7.4-543 0-559 7.4-543"/>
<path transform="rotate(214.5)" d="M-7.4-543 0-567 7.4-543"/>
<path transform="rotate(216)" d="M-7.4-543 0-555 7.4-543"/>
<path transform="rotate(217.5)" d="M-7.4-543 0-549 7.4-543"/>
<path transform="rotate(219)" d="M-7.4-543 0-553 7.4-543"/>
<path transform="rotate(220.5)" d="M-7.4-543 0-557 7.4-543"/>
<path transform="rotate(222)" d="M-7.4-543 0-551 7.4-543"/>
<path transform="rotate(223.5)" d="M-7.4-543 0-547 7.4-543"/>
<path transform="rotate(225)" d="M-7.4-543 0-549 7.4-543"/>
<path transform="rotate(226.5)" d="M-7.4-543 0-555 7.4-543"/>
<path transform="rotate(228)" d="M-7.4-543 0-561 7.4-543"/>
<path transform="rotate(229.5)" d="M-7.4-543 0-553 7.4-543"/>
<path transform="rotate(231)" d="M-7.4-543 0-548 7.4-543"/>
<path transform="rotate(232.5)" d="M-7.4-543 0-551 7.4-543"/>
<path transform="rotate(234)" d="M-7.4-543 0-557 7.4-543"/>
<path transform="rotate(235.5)" d="M-7.4-543 0-563 7.4-543"/>
<path transform="rotate(237)" d="M-7.4-543 0-555 7.4-543"/>
<path transform="rotate(238.5)" d="M-7.4-543 0-549 7.4-543"/>
<path transform="rotate(240)" d="M-7.4-543 0-553 7.4-543"/>
<path transform="rotate(241.5)" d="M-7.4-543 0-559 7.4-543"/>
<path transform="rotate(243)" d="M-7.4-543 0-551 7.4-543"/>
<path transform="rotate(244.5)" d="M-7.4-543 0-547 7.4-543"/>
<path transform="rotate(246)" d="M-7.4-543 0-555 7.4-543"/>
<path transform="rotate(247.5)" d="M-7.4-543 0-561 7.4-543"/>
<path transform="rotate(249)" d="M-7.4-543 0-553 7.4-543"/>
<path transform="rotate(250.5)" d="M-7.4-543 0-549 7.4-543"/>
<path transform="rotate(252)" d="M-7.4-543 0-557 7.4-543"/>
<path transform="rotate(253.5)" d="M-7.4-543 0-563 7.4-543"/>
<path transform="rotate(255)" d="M-7.4-543 0-555 7.4-543"/>
<path transform="rotate(256.5)" d="M-7.4-543 0-551 7.4-543"/>
<path transform="rotate(258)" d="M-7.4-543 0-559 7.4-543"/>
<path transform="rotate(259.5)" d="M-7.4-543 0-565 7.4-543"/>
<path transform="rotate(261)" d="M-7.4-543 0-557 7.4-543"/>
<path transform="rotate(262.5)" d="M-7.4-543 0-549 7.4-543"/>
<path transform="rotate(264)" d="M-7.4-543 0-553 7.4-543"/>
<path transform="rotate(265.5)" d="M-7.4-543 0-559 7.4-543"/>
<path transform="rotate(267)" d="M-7.4-543 0-563 7.4-543"/>
<path transform="rotate(268.5)" d="M-7.4-543 0-555 7.4-543"/>
<path transform="rotate(270)" d="M-7.4-543 0-551 7.4-543"/>
<path transform="rotate(271.5)" d="M-7.4-543 0-557 7.4-543"/>
<path transform="rotate(273)" d="M-7.4-543 0-563 7.4-543"/>
<path transform="rotate(274.5)" d="M-7.4-543 0-555 7.4-543"/>
<path transform="rotate(276)" d="M-7.4-543 0-549 7.4-543"/>
<path transform="rotate(277.5)" d="M-7.4-543 0-553 7.4-543"/>
<path transform="rotate(279)" d="M-7.4-543 0-561 7.4-543"/>
<path transform="rotate(280.5)" d="M-7.4-543 0-567 7.4-543"/>
<path transform="rotate(282)" d="M-7.4-543 0-559 7.4-543"/>
<path transform="rotate(283.5)" d="M-7.4-543 0-553 7.4-543"/>
<path transform="rotate(285)" d="M-7.4-543 0-557 7.4-543"/>
<path transform="rotate(286.5)" d="M-7.4-543 0-563 7.4-543"/>
<path transform="rotate(288)" d="M-7.4-543 0-569 7.4-543"/>
<path transform="rotate(289.5)" d="M-7.4-543 0-561 7.4-543"/>
<path transform="rotate(291)" d="M-7.4-543 0-553 7.4-543"/>
<path transform="rotate(292.5)" d="M-7.4-543 0-559 7.4-543"/>
<path transform="rotate(294)" d="M-7.4-543 0-565 7.4-543"/>
<path transform="rotate(295.5)" d="M-7.4-543 0-573 7.4-543"/>
<path transform="rotate(297)" d="M-7.4-543 0-567 7.4-543"/>
<path transform="rotate(298.5)" d="M-7.4-543 0-559 7.4-543"/>
<path transform="rotate(300)" d="M-7.4-543 0-563 7.4-543"/>
<path transform="rotate(301.5)" d="M-7.4-543 0-571 7.4-543"/>
<path transform="rotate(303)" d="M-7.4-543 0-565 7.4-543"/>
<path transform="rotate(304.5)" d="M-7.4-543 0-557 7.4-543"/>
<path transform="rotate(306)" d="M-7.4-543 0-567 7.4-543"/>
<path transform="rotate(307.5)" d="M-7.4-543 0-573 7.4-543"/>
<path transform="rotate(309)" d="M-7.4-543 0-579 7.4-543"/>
<path transform="rotate(310.5)" d="M-7.4-543 0-569 7.4-543"/>
<path transform="rotate(312)" d="M-7.4-543 0-561 7.4-543"/>
<path transform="rotate(313.5)" d="M-7.4-543 0-555 7.4-543"/>
<path transform="rotate(315)" d="M-7.4-543 0-559 7.4-543"/>
<path transform="rotate(316.5)" d="M-7.4-543 0-565 7.4-543"/>
<path transform="rotate(318)" d="M-7.4-543 0-571 7.4-543"/>
<path transform="rotate(319.5)" d="M-7.4-543 0-563 7.4-543"/>
<path transform="rotate(321)" d="M-7.4-543 0-555 7.4-543"/>
<path transform="rotate(322.5)" d="M-7.4-543 0-551 7.4-543"/>
<path transform="rotate(324)" d="M-7.4-543 0-537 7.4-543"/>
<path transform="rotate(325.5)" d="M-7.4-543 0-529 7.4-543"/>
<path transform="rotate(327)" d="M-7.4-543 0-521 7.4-543"/>
<path transform="rotate(328.5)" d="M-7.4-543 0-515 7.4-543"/>
<path transform="rotate(330)" d="M-7.4-543 0-511 7.4-543"/>
<path transform="rotate(331.5)" d="M-7.4-543 0-519 7.4-543"/>
<path transform="rotate(333)" d="M-7.4-543 0-529 7.4-543"/>
<path transform="rotate(334.5)" d="M-7.4-543 0-537 7.4-543"/>
<path transform="rotate(336)" d="M-7.4-543 0-547 7.4-543"/>
<path transform="rotate(337.5)" d="M-7.4-543 0-557 7.4-543"/>
<path transform="rotate(339)" d="M-7.4-543 0-571 7.4-543"/>
<path transform="rotate(340.5)" d="M-7.4-543 0-579 7.4-543"/>
<path transform="rotate(342)" d="M-7.4-543 0-563 7.4-543"/>
<path transform="rotate(343.5)" d="M-7.4-543 0-551 7.4-543"/>
<path transform="rotate(345)" d="M-7.4-543 0-555 7.4-543"/>
<path transform="rotate(346.5)" d="M-7.4-543 0-561 7.4-543"/>
<path transform="rotate(348)" d="M-7.4-543 0-569 7.4-543"/>
<path transform="rotate(349.5)" d="M-7.4-543 0-577 7.4-543"/>
<path transform="rotate(351)" d="M-7.4-543 0-563 7.4-543"/>
<path transform="rotate(352.5)" d="M-7.4-543 0-551 7.4-543"/>
<path transform="rotate(354)" d="M-7.4-543 0-539 7.4-543"/>
<path transform="rotate(355.5)" d="M-7.4-543 0-533 7.4-543"/>
<path transform="rotate(357)" d="M-7.4-543 0-537 7.4-543"/>
<path transform="rotate(358.5)" d="M-7.4-543 0-540 7.4-543"/>
</g>
<g id="genes-outer" fill="none" stroke-width="36">
<circle class="hy" r="708" stroke-dasharray="32.13 5000" transform="rotate(-58.4)"/>
<circle class="hyg" r="708" stroke-dasharray="12.36 5000" transform="rotate(-57.6)" stroke-width="8"/>
<circle class="bk" r="708" stroke-dasharray="24.71 5000" transform="rotate(-55.2)"/>
<circle class="hy" r="708" stroke-dasharray="39.54 5000" transform="rotate(-52.8)"/>
<circle class="hyg" r="708" stroke-dasharray="19.77 5000" transform="rotate(-52)"/>
<circle class="or" r="708" stroke-dasharray="8 5000" transform="rotate(-50.3)" stroke-width="14"/>
<circle class="bl" r="708" stroke-dasharray="80.32 5000" transform="rotate(-49.4)"/>
<circle class="blg" r="708" stroke-dasharray="60.55 5000" transform="rotate(-48.6)"/>
<circle class="hy" r="708" stroke-dasharray="191.53 5000" transform="rotate(-41)"/>
<circle class="hyg" r="708" stroke-dasharray="171.76 5000" transform="rotate(-40.2)"/>
<circle class="or" r="708" stroke-dasharray="10 5000" transform="rotate(-26.3)" stroke-width="14"/>
<circle class="bl" r="708" stroke-dasharray="63.02 5000" transform="rotate(-25.3)"/>
<circle class="blg" r="708" stroke-dasharray="43.25 5000" transform="rotate(-24.5)"/>
<circle class="hy" r="708" stroke-dasharray="54.37 5000" transform="rotate(-18.4)"/>
<circle class="hyg" r="708" stroke-dasharray="34.6 5000" transform="rotate(-17.6)"/>
<circle class="hy" r="708" stroke-dasharray="97.62 5000" transform="rotate(-13.7)"/>
<circle class="hyg" r="708" stroke-dasharray="77.85 5000" transform="rotate(-12.9)"/>
<circle class="bk" r="708" stroke-dasharray="28.42 5000" transform="rotate(227.5)"/>
<circle class="rd" r="708" stroke-dasharray="8 5000" transform="rotate(228.6)" stroke-width="10"/>
<circle class="bl" r="708" stroke-dasharray="205.13 5000" transform="rotate(230.1)"/>
<circle class="blg" r="708" stroke-dasharray="185.36 5000" transform="rotate(230.9)"/>
</g>
<g id="genes-inner" fill="none" stroke-width="36">
<circle class="hy" r="476" stroke-dasharray="30.74 3000" transform="rotate(256.3)"/>
<circle class="hyg" r="476" stroke-dasharray="17.45 3000" transform="rotate(257.1)"/>
<circle class="hy" r="476" stroke-dasharray="35.72 3000" transform="rotate(261.2)"/>
<circle class="hyg" r="476" stroke-dasharray="22.43 3000" transform="rotate(262)"/>
<circle class="hy" r="476" stroke-dasharray="29.91 3000" transform="rotate(265.9)"/>
<circle class="hyg" r="476" stroke-dasharray="16.62 3000" transform="rotate(266.7)"/>
<circle class="bl" r="476" stroke-dasharray="39.88 3000" transform="rotate(-87.8)"/>
<circle class="blg" r="476" stroke-dasharray="26.58 3000" transform="rotate(-87)"/>
<circle class="hy" r="476" stroke-dasharray="37.39 3000" transform="rotate(-82.7)"/>
<circle class="hyg" r="476" stroke-dasharray="24.09 3000" transform="rotate(-81.9)"/>
<circle class="or" r="476" stroke-dasharray="8 3000" transform="rotate(-82.5)" stroke-width="12"/>
<circle class="hy" r="476" stroke-dasharray="54 3000" transform="rotate(-75)"/>
<circle class="hyg" r="476" stroke-dasharray="40.71 3000" transform="rotate(-74.2)"/>
<circle class="hy" r="476" stroke-dasharray="44.86 3000" transform="rotate(-68)"/>
<circle class="hyg" r="476" stroke-dasharray="31.57 3000" transform="rotate(-67.2)"/>
<circle class="hy" r="476" stroke-dasharray="11.63 3000" transform="rotate(-62.4)"/>
<circle class="bk" r="476" stroke-dasharray="11.63 3000" transform="rotate(-3.9)"/>
<circle class="rd" r="476" stroke-dasharray="44.86 3000" transform="rotate(-2.2)"/>
<circle class="rdg" r="476" stroke-dasharray="31.57 3000" transform="rotate(-1.4)"/>
<circle class="hy" r="476" stroke-dasharray="98.86 3000" transform="rotate(4.5)"/>
<circle class="hyg" r="476" stroke-dasharray="85.57 3000" transform="rotate(5.3)"/>
<circle class="hy" r="476" stroke-dasharray="56.49 3000" transform="rotate(16.7)"/>
<circle class="hyg" r="476" stroke-dasharray="43.2 3000" transform="rotate(17.5)"/>
<circle class="bk" r="476" stroke-dasharray="14.95 3000" transform="rotate(26)"/>
<circle class="hy" r="476" stroke-dasharray="44.86 3000" transform="rotate(28)"/>
<circle class="hyg" r="476" stroke-dasharray="31.57 3000" transform="rotate(28.8)"/>
<circle class="hy" r="476" stroke-dasharray="39.88 3000" transform="rotate(33.7)"/>
<circle class="hyg" r="476" stroke-dasharray="26.58 3000" transform="rotate(34.5)"/>
<circle class="hy" r="476" stroke-dasharray="30.74 3000" transform="rotate(38.8)"/>
<circle class="hyg" r="476" stroke-dasharray="17.45 3000" transform="rotate(39.6)"/>
<circle class="bl" r="476" stroke-dasharray="10.8 3000" transform="rotate(42.5)"/>
<circle class="or" r="476" stroke-dasharray="255.88 3000" transform="rotate(44)"/>
<circle class="org" r="476" stroke-dasharray="242.59 3000" transform="rotate(44.8)"/>
<circle class="or" r="476" stroke-dasharray="39.05 3000" transform="rotate(75.1)"/>
<circle class="org" r="476" stroke-dasharray="25.75 3000" transform="rotate(75.9)"/>
<circle class="or" r="476" stroke-dasharray="88.89 3000" transform="rotate(80.1)"/>
<circle class="org" r="476" stroke-dasharray="75.6 3000" transform="rotate(80.9)"/>
<circle class="bl" r="476" stroke-dasharray="225.97 3000" transform="rotate(90.8)"/>
<circle class="blg" r="476" stroke-dasharray="212.68 3000" transform="rotate(91.6)"/>
<circle class="rd" r="476" stroke-dasharray="34.89 3000" transform="rotate(118.6)"/>
<circle class="rdg" r="476" stroke-dasharray="21.6 3000" transform="rotate(119.4)"/>
<circle class="or" r="476" stroke-dasharray="135.42 3000" transform="rotate(123.4)"/>
<circle class="org" r="476" stroke-dasharray="122.12 3000" transform="rotate(124.2)"/>
<circle class="bk" r="476" stroke-dasharray="24.92 3000" transform="rotate(140)"/>
<circle class="db" r="476" stroke-dasharray="18 3000" transform="rotate(140.4)" stroke-width="26"/>
<circle class="or" r="476" stroke-dasharray="56.49 3000" transform="rotate(143.2)"/>
<circle class="org" r="476" stroke-dasharray="43.2 3000" transform="rotate(144)"/>
<circle class="gr" r="476" stroke-dasharray="20.77 3000" transform="rotate(150.3)"/>
<circle class="gr" r="476" stroke-dasharray="49.02 3000" transform="rotate(153.1)"/>
<circle class="grg" r="476" stroke-dasharray="35.72 3000" transform="rotate(153.9)"/>
<circle class="hy" r="476" stroke-dasharray="79.75 3000" transform="rotate(159.2)"/>
<circle class="hyg" r="476" stroke-dasharray="66.46 3000" transform="rotate(160)"/>
<circle class="db" r="476" stroke-dasharray="10 3000" transform="rotate(159.4)" stroke-width="26"/>
<circle class="or" r="476" stroke-dasharray="10.8 3000" transform="rotate(169)"/>
<circle class="or" r="476" stroke-dasharray="127.94 3000" transform="rotate(170.6)"/>
<circle class="org" r="476" stroke-dasharray="114.65 3000" transform="rotate(171.4)"/>
<circle class="gr" r="476" stroke-dasharray="73.11 3000" transform="rotate(186.2)"/>
<circle class="grg" r="476" stroke-dasharray="59.82 3000" transform="rotate(187)"/>
<circle class="bl" r="476" stroke-dasharray="122.96 3000" transform="rotate(195.2)"/>
<circle class="blg" r="476" stroke-dasharray="109.66 3000" transform="rotate(196)"/>
<circle class="bl" r="476" stroke-dasharray="29.91 3000" transform="rotate(210.4)"/>
<circle class="blg" r="476" stroke-dasharray="16.62 3000" transform="rotate(211.2)"/>
<circle class="bl" r="476" stroke-dasharray="69.79 3000" transform="rotate(214.4)"/>
<circle class="blg" r="476" stroke-dasharray="56.49 3000" transform="rotate(215.2)"/>
<circle class="bk" r="476" stroke-dasharray="30.74 3000" transform="rotate(223.3)"/>
<circle class="rd" r="476" stroke-dasharray="10 3000" transform="rotate(225)" stroke-width="8" opacity=".6"/>
</g>
</g>
<g id="scale-labels">
<text class="kb" x="1651" y="865">5 kbp</text>
<text class="kb" x="1799" y="1027">10 kbp</text>
<text class="kb" x="1849" y="1230">15 kbp</text>
<text class="kb" x="1782" y="1428">20 kbp</text>
<text class="kb" x="1616" y="1577">25 kbp</text>
<text class="kb" x="1440" y="1618">30 kbp</text>
<text class="kb" x="1273" y="1544">35 kbp</text>
<text class="kb" x="1131" y="1373">40 kbp</text>
<text class="kb" x="1097" y="1165">45 kbp</text>
<text class="kb" x="1180" y="972">50 kbp</text>
<text class="kb" x="1356" y="837">55 kbp</text>
</g>
<g id="title"><text x="1258" y="1228" font-family="Open Sans,Noto Sans,sans-serif" font-size="64" fill="#111" textLength="392" lengthAdjust="spacingAndGlyphs">vB_PmC_P-07</text></g>
<g id="connectors" stroke-width="2.6">
<line class="lk" x1="1270" y1="248" x2="1317" y2="460"/>
<line class="lk" x1="1436" y1="287" x2="1442" y2="443"/>
<line class="lb" x1="1554" y1="322" x2="1541" y2="447"/>
<line class="lk" x1="1374" y1="353" x2="1386" y2="448"/>
<line class="lk" x1="1608" y1="390" x2="1598" y2="455"/>
<line class="lk" x1="1720" y1="353" x2="1685" y2="473"/>
<line class="lk" x1="1813" y1="386" x2="1763" y2="503"/>
<line class="lk" x1="1743" y1="423" x2="1718" y2="492"/>
<line class="lk" x1="1850" y1="470" x2="1819" y2="529"/>
<line class="lk" x1="2091" y1="332" x2="1905" y2="585"/>
<line class="lk" x1="1917" y1="508" x2="1876" y2="562"/>
<line class="lk" x1="1985" y1="560" x2="1940" y2="612"/>
<line class="lb" x1="2040" y1="608" x2="1987" y2="654"/>
<line class="lk" x1="2114" y1="688" x2="2062" y2="728"/>
<line class="lk" x1="2156" y1="743" x2="2100" y2="780"/>
<line class="lk" x1="2183" y1="788" x2="2127" y2="822"/>
<line class="lk" x1="2206" y1="829" x2="2148" y2="860"/>
<line class="lb" x1="2231" y1="885" x2="2170" y2="910"/>
<line class="lk" x1="2258" y1="962" x2="2197" y2="982"/>
<line class="lk" x1="2264" y1="997" x2="2200" y2="1004"/>
<line class="lk" x1="2272" y1="1045" x2="2211" y2="1050"/>
<line class="lk" x1="2285" y1="1103" x2="2220" y2="1107"/>
<line class="lk" x1="2288" y1="1156" x2="2225" y2="1158"/>
<line class="lr" x1="2290" y1="1194" x2="2227" y2="1194"/>
<line class="lr" x1="2290" y1="1236" x2="2227" y2="1234"/>
<line class="lk" x1="2280" y1="1342" x2="2216" y2="1332"/>
<line class="lk" x1="2244" y1="1483" x2="2182" y2="1460"/>
<line class="lk" x1="2187" y1="1605" x2="2129" y2="1572"/>
<line class="lk" x1="2139" y1="1679" x2="2086" y2="1641"/>
<line class="lk" x1="2086" y1="1745" x2="2036" y2="1702"/>
<line class="lr" x1="2036" y1="1799" x2="1991" y2="1750"/>
<line class="lr" x1="1873" y1="1917" x2="1842" y2="1859"/>
<line class="lr" x1="1645" y1="2005" x2="1632" y2="1940"/>
<line class="lr" x1="1533" y1="2055" x2="1529" y2="1953"/>
<line class="lb" x1="1266" y1="1998" x2="1286" y2="1933"/>
<line class="lr" x1="1058" y1="1910" x2="1091" y2="1854"/>
<line class="lr" x1="986" y1="1862" x2="1025" y2="1811"/>
<line class="lk" x1="679" y1="1864" x2="891" y2="1685"/>
<line class="lr" x1="929" y1="1814" x2="972" y2="1766"/>
<line class="lr" x1="891" y1="1783" x2="937" y2="1736"/>
<line class="lr" x1="863" y1="1750" x2="910" y2="1708"/>
<line class="lr" x1="802" y1="1673" x2="854" y2="1637"/>
<line class="lk" x1="765" y1="1617" x2="820" y2="1585"/>
<line class="lk" x1="731" y1="1549" x2="788" y2="1524"/>
<line class="lk" x1="682" y1="1431" x2="745" y2="1413"/>
<line class="lr" x1="664" y1="1350" x2="728" y2="1338"/>
<line class="lr" x1="652" y1="1242" x2="716" y2="1240"/>
<line class="lr" x1="656" y1="1132" x2="717" y2="1134"/>
<line class="lk" x1="666" y1="1039" x2="730" y2="1050"/>
<line class="lb" x1="684" y1="963" x2="747" y2="982"/>
<line class="lb" x1="719" y1="867" x2="781" y2="894"/>
<line class="lb" x1="776" y1="760" x2="832" y2="794"/>
<line class="lb" x1="829" y1="689" x2="877" y2="725"/>
<line class="lk" x1="885" y1="628" x2="936" y2="669"/>
<line class="lk" x1="933" y1="581" x2="979" y2="628"/>
<line class="lb" x1="1035" y1="502" x2="1070" y2="559"/>
</g>
<g id="labels" class="t">
<g id="n1"><text class="k" x="1116" y="243">hypothetical protein</text></g>
<g id="n2"><text class="k" x="1281" y="283">hypothetical protein</text></g>
<g id="n3"><text class="b" x="1370" y="317">DNA modification protein</text></g>
<g id="n4"><text class="k" x="1220" y="348">hypothetical protein</text></g>
<g id="n5"><text class="k" x="1455" y="385">hypothetical protein</text></g>
<g id="n6"><text class="k" x="1720" y="348">hypothetical protein</text></g>
<g id="n7"><text class="k" x="1813" y="381">hypothetical protein</text></g>
<g id="n8"><text class="k" x="1743" y="419">hypothetical protein</text></g>
<g id="n9"><text class="k" x="1850" y="466">hypothetical protein</text></g>
<g id="n10"><text class="k" x="2091" y="328">hypothetical protein</text></g>
<g id="n11"><text class="k" x="1917" y="505">hypothetical protein</text></g>
<g id="n12"><text class="k" x="1985" y="555">hypothetical protein</text></g>
<g id="n13"><text class="b" x="2040" y="604">exonuclease</text></g>
<g id="n14"><text class="k" x="2114" y="684">hypothetical protein</text></g>
<g id="n15"><text class="k" x="2156" y="739">hypothetical protein</text></g>
<g id="n16"><text class="k" x="2183" y="785">hypothetical protein</text></g>
<g id="n17"><text class="k" x="2206" y="825">hypothetical protein</text></g>
<g id="n18"><text class="b" x="2231" y="881">DNA methyltransferase</text></g>
<g id="n19"><text class="k" x="2258" y="958">hypothetical protein</text></g>
<g id="n20"><text class="k" x="2265" y="1005">hypothetical protein</text></g>
<g id="n21"><text class="k" x="2273" y="1053">hypothetical protein</text></g>
<g id="n22"><text class="k" x="2287" y="1112">hypothetical protein</text></g>
<g id="n23"><text class="k" x="2290" y="1165">hypothetical protein</text></g>
<g id="n24"><text class="r" x="2292" y="1206">Lysis protein A</text></g>
<g id="n25"><text class="r" x="2292" y="1248">Rz-like spanin protein</text></g>
<g id="n26"><text class="k" x="2280" y="1354">hypothetical protein</text></g>
<g id="n27"><text class="k" x="2242" y="1509">hypothetical protein</text></g>
<g id="n28"><text class="k" x="2187" y="1630">hypothetical protein</text></g>
<g id="n29"><text class="k" x="2139" y="1705">hypothetical protein</text></g>
<g id="n30"><text class="k" x="2086" y="1771">hypothetical protein</text></g>
<g id="n31"><text class="r" x="2036" y="1823">tail fiber protein</text></g>
<g id="n32"><text class="r" x="1875" y="1941">tail assembly protein</text></g>
<g id="n33"><text class="r" x="1485" y="2028">tail assembly protein</text></g>
<g id="n34"><text class="r" x="1378" y="2075">tail assembly protein</text></g>
<g id="n35"><text class="b" x="1120" y="2022">tape measure protein</text></g>
<g id="n36"><text class="r" x="845" y="1936">tail assembly</text></g>
<g id="n37"><text class="r" x="712" y="1888">structural protein</text></g>
<g id="n38"><text class="k" x="374" y="1890">hypothetical protein</text></g>
<g id="n39"><text class="r" x="702" y="1842">tail terminator</text></g>
<g id="n40"><text class="r" x="650" y="1809">tail component Z</text></g>
<g id="n41"><text class="r" x="557" y="1776">head closure protein</text></g>
<g id="n42"><text class="r" x="557" y="1699">capsid protein E</text></g>
<g id="n43"><text class="k" x="475" y="1644">decorator protein D</text></g>
<g id="n44"><text class="k" x="240" y="1577">head maturation protease protein</text></g>
<g id="n45"><text class="k" x="469" y="1457">Portal protein</text></g>
<g id="n46"><text class="r" x="97" y="1361">putative head-to-tail joining protein</text></g>
<g id="n47"><text class="r" x="162" y="1258">putative terminase large subunit</text></g>
<g id="n48"><text class="r" x="304" y="1140">terminase small subunit</text></g>
<g id="n49"><text class="k" x="209" y="1049">ATP-dependent helicase protein</text></g>
<g id="n50"><text class="b" x="503" y="959">endonuclease</text></g>
<g id="n51"><text class="b" x="505" y="863">DNA polymerase</text></g>
<g id="n52"><text class="b" x="28" y="756">ssDNA binding protein and ssDNA annealing protein</text></g>
<g id="n53"><text class="b" x="661" y="685">exonuclease</text></g>
<g id="n54"><text class="k" x="579" y="620">hypothetical protein</text></g>
<g id="n55"><text class="k" x="628" y="575">hypothetical protein</text></g>
<g id="n56"><text class="b" x="867" y="498">DNA primase</text></g>
</g>
</svg>
